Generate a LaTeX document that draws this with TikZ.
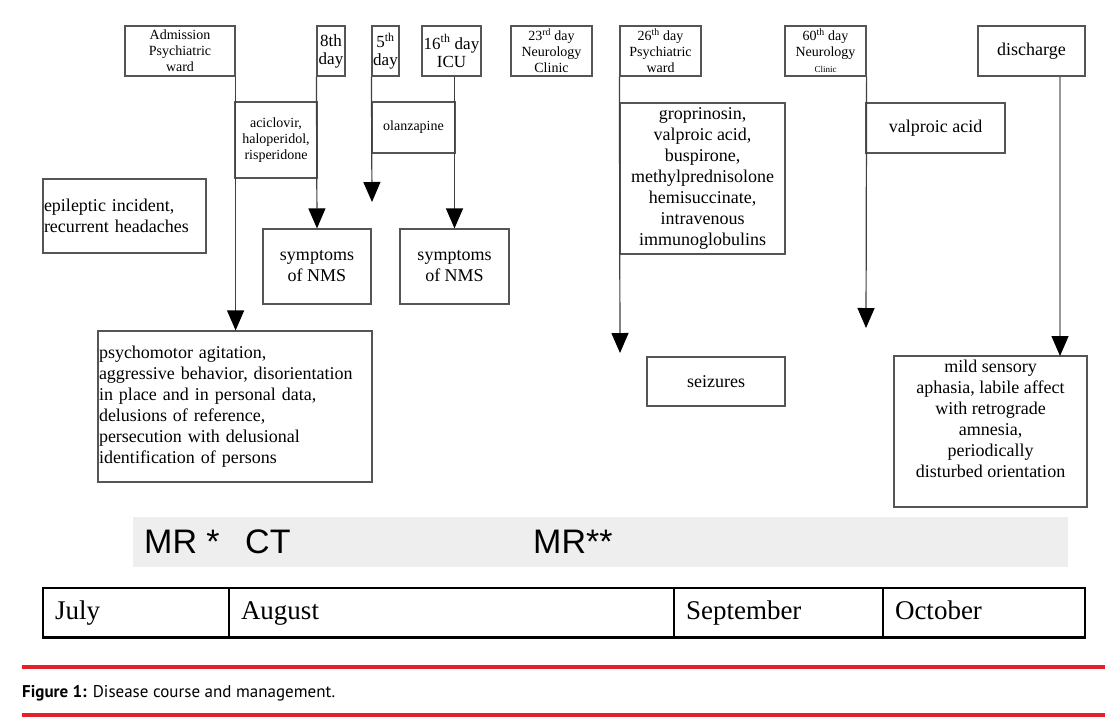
\documentclass[tikz,border=0pt]{standalone}
\usepackage{fontspec}
\setmainfont{Liberation Serif}
\newfontfamily\bandfont{Liberation Sans}
\newfontfamily\capfont{PT Sans}
\usetikzlibrary{arrows.meta}
\definecolor{boxline}{RGB}{85,85,85}
\definecolor{bandgray}{RGB}{238,238,238}
\definecolor{capred}{RGB}{228,32,40}
\newcommand{\bigtxt}{\fontsize{18}{21}\selectfont}
\newcommand{\smalltxt}{\fontsize{14}{16}\selectfont}
\newcommand{\daytxt}{\fontsize{17}{18}\selectfont}
\begin{document}
\begin{tikzpicture}[x=1pt, y=-1pt,
    box/.style={draw=boxline, line width=1.2pt, fill=white, inner sep=1pt, align=center, font=\bigtxt},
    tip/.style={draw=black!75, line width=1.2pt, -{Triangle[width=17pt,length=20pt,fill=black,color=black]}},
    month/.style={draw=black, line width=1.2pt, minimum height=49pt, inner xsep=12pt, align=left,
      text height=19pt, text depth=6pt, font=\fontsize{27}{29}\selectfont}]
  \useasboundingbox (0,0) rectangle (1118,721);
  % days on top
  \node[box, font=\smalltxt, minimum width=110pt, minimum height=50pt] (adm) at (180,51) {Admission\\Psychiatric\\ward};
  \node[box, font=\daytxt, minimum width=28pt, minimum height=50pt, inner sep=0pt] (d8) at (331,51) {8th\\day};
  \node[box, font=\daytxt, minimum width=27pt, minimum height=50pt, inner sep=0pt] (d5) at (385.5,51) {5\textsuperscript{th}\\day};
  \node[box, font=\daytxt, minimum width=59pt, minimum height=50pt] (icu) at (451.5,51) {16\textsuperscript{th} day\\ICU};
  \node[box, font=\smalltxt, minimum width=81pt, minimum height=50pt] (d23) at (551.5,51) {23\textsuperscript{rd} day\\Neurology\\Clinic};
  \node[box, font=\smalltxt, minimum width=81pt, minimum height=50pt] (d26) at (660.5,51) {26\textsuperscript{th} day\\Psychiatric\\ward};
  \node[box, font=\smalltxt, minimum width=81pt, minimum height=50pt] (d60) at (825.5,51) {60\textsuperscript{th} day\\Neurology\\{\fontsize{9}{10}\selectfont Clinic}};
  \node[box, minimum width=107pt, minimum height=50pt] (disch) at (1031.5,51) {discharge};
  % therapy
  \node[box, font=\smalltxt, minimum width=82pt, minimum height=76pt] (acic) at (276,140) {aciclovir,\\haloperidol,\\risperidone};
  \node[box, font=\smalltxt, minimum width=83pt, minimum height=51pt] (olan) at (413.5,127.5) {olanzapine};
  \node[box, minimum width=165pt, minimum height=151pt] (drugs) at (702.5,178.5) {groprinosin,\\valproic acid,\\buspirone,\\methylprednisolone\\hemisuccinate,\\intravenous\\immunoglobulins};
  \node[box, minimum width=139pt, minimum height=50pt] (valp) at (935.5,128) {valproic acid};
  % symptoms
  \node[box, text width=161pt, minimum height=74pt, align=left] (epi) at (124.5,216) {epileptic incident,\\recurrent headaches};
  \node[box, minimum width=108pt, minimum height=75pt] (nms1) at (317,266.5) {symptoms\\of NMS};
  \node[box, minimum width=109pt, minimum height=75pt] (nms2) at (454.5,266.5) {symptoms\\of NMS};
  \node[box, text width=272pt, minimum height=151pt, align=left] (psy) at (235,406.5) {psychomotor agitation,\\aggressive behavior, disorientation\\in place and in personal data,\\delusions of reference,\\persecution with delusional\\identification of persons};
  \node[box, minimum width=138pt, minimum height=49pt] (seiz) at (716,381.5) {seizures};
  \node[box, minimum width=193pt, minimum height=151pt, text depth=26pt] (mild) at (990.5,431.5) {mild sensory\\aphasia, labile affect\\with retrograde\\amnesia,\\periodically\\disturbed orientation};
  % arrows
  \coordinate (t5) at (372,202);
  \coordinate (t26) at (620,353);
  \coordinate (t60) at (866,328);
  \coordinate (tdis) at (1060,356);
  \draw[tip] (adm.south east) -- (adm.south east |- psy.north);
  \draw[tip] (d8.south west) -- (nms1.north);
  \draw[tip] (d5.south west) -- (t5);
  \draw[tip] (nms2.north |- icu.south) -- (nms2.north);
  \draw[tip] (d26.south west) -- (t26);
  \draw[tip] (d60.south east) -- (t60);
  \draw[tip, draw=gray!80] (disch.south -| tdis) -- (tdis);
  % imaging
  \fill[bandgray] (133,517) rectangle (1068,567);
  \node[anchor=base west, inner sep=0pt, font=\bandfont\fontsize{34}{34}\selectfont] (mr1) at (144,553) {MR *};
  \node[anchor=base west, inner sep=0pt, font=\bandfont\fontsize{34}{34}\selectfont] (ct) at (245,553) {CT};
  \node[anchor=base west, inner sep=0pt, font=\bandfont\fontsize{34}{34}\selectfont] (mr2) at (533,553) {MR**};
  % months
  \node[month, text width=162pt] (jul) at (136,612.5) {July};
  \node[month, text width=421pt] (aug) at (451.5,612.5) {August};
  \node[month, text width=185pt] (sep) at (778.5,612.5) {September};
  \node[month, text width=178pt] (oct) at (984,612.5) {October};
  \draw[line width=2.5pt] (jul.south west) -- (oct.south east);
  % caption
  \draw[capred, line width=4pt] (22,667) -- (1105,667);
  \node[anchor=base west, inner sep=0pt, font=\capfont\fontsize{17}{17}\selectfont] (cap) at (22,697) {\textbf{Figure 1:} Disease course and management.};
  \draw[capred, line width=4pt] (22,715) -- (1105,715);
\end{tikzpicture}
\end{document}
